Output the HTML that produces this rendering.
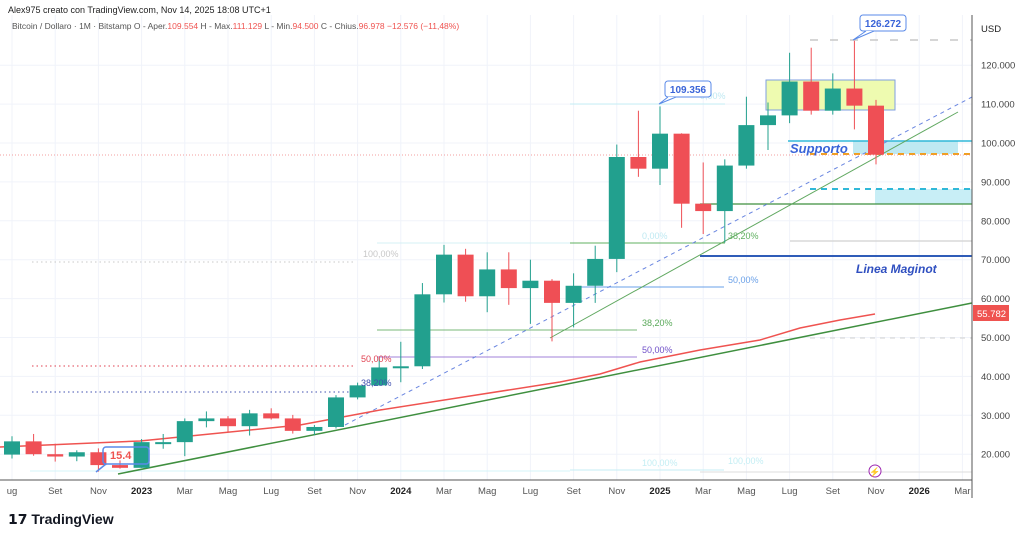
<!DOCTYPE html>
<html><head><meta charset="utf-8"><style>
body{margin:0;background:#fff;width:1024px;height:539px;overflow:hidden;font-family:"Liberation Sans",sans-serif}
svg{position:absolute;left:0;top:0}
text{font-family:"Liberation Sans",sans-serif}
</style></head><body>
<svg id="s" width="1024" height="539" viewBox="0 0 1024 539">
<g id="grid" stroke="#f0f3fa" stroke-width="1"></g>
<!-- rectangles -->
<rect x="766" y="80" width="129" height="30" fill="#eefbb0" stroke="#7f9fe0" stroke-width="1"/>
<rect x="853" y="141" width="105" height="13" fill="#bfe9f2"/>
<rect x="875" y="189" width="97" height="15" fill="#c8eef6"/>
<!-- horizontal lines -->
<line x1="32" y1="262" x2="355" y2="262" stroke="#c8c8c8" stroke-dasharray="1.5,3"/>
<line x1="32" y1="366" x2="355" y2="366" stroke="#e04050" stroke-dasharray="1.5,3"/>
<line x1="32" y1="392" x2="355" y2="392" stroke="#4050b0" stroke-dasharray="1.5,3"/>
<line x1="377" y1="243" x2="615" y2="243" stroke="#d4f0f4"/>
<line x1="377" y1="330" x2="637" y2="330" stroke="#78b878"/>
<line x1="377" y1="357" x2="637" y2="357" stroke="#a080d8"/>
<line x1="570" y1="104" x2="725" y2="104" stroke="#c4eef4"/>
<line x1="570" y1="243" x2="725" y2="243" stroke="#60b060"/>
<line x1="570" y1="287" x2="724" y2="287" stroke="#6aa0e8"/>
<line x1="570" y1="470" x2="724" y2="470" stroke="#c4eef4"/>
<line x1="30" y1="471" x2="570" y2="471" stroke="#d4f4f8"/>
<line x1="700" y1="472" x2="972" y2="472" stroke="#ddd"/>
<line x1="700" y1="204" x2="972" y2="204" stroke="#3f8f3f" stroke-width="1.3"/>
<line x1="790" y1="241" x2="972" y2="241" stroke="#d8d8d8" stroke-width="1.5"/>
<line x1="700" y1="256" x2="972" y2="256" stroke="#2f5cb8" stroke-width="2"/>
<line x1="788" y1="141" x2="972" y2="141" stroke="#30b8d8" stroke-width="1.5"/>
<line x1="810" y1="154" x2="972" y2="154" stroke="#f0a020" stroke-width="2" stroke-dasharray="6,5"/>
<line x1="810" y1="189" x2="972" y2="189" stroke="#30b8d8" stroke-width="2" stroke-dasharray="6,5"/>
<line x1="810" y1="40" x2="972" y2="40" stroke="#c8c8c8" stroke-width="1.5" stroke-dasharray="8,12"/>
<line x1="810" y1="338" x2="972" y2="338" stroke="#d0d0d0" stroke-dasharray="5,5"/>
<line x1="0" y1="155" x2="972" y2="155" stroke="#f08080" stroke-width="0.8" stroke-dasharray="1,2"/>
<!-- trend lines -->
<line x1="345" y1="425" x2="972" y2="97" stroke="#6a86e0" stroke-dasharray="4,4"/>
<line x1="118" y1="474" x2="972" y2="303" stroke="#3f8f3f" stroke-width="1.5"/>
<line x1="550" y1="338" x2="958" y2="112" stroke="#60a860" stroke-width="1"/>
<polyline points="0,447 140,441 300,425 380,410 470,396 560,382 600,374 640,362 700,350 760,340 800,328 840,320 875,314" fill="none" stroke="#ef5350" stroke-width="1.5"/>
<g id="c"></g>
<!-- labels -->
<g font-size="9">
<text x="363" y="257" fill="#c8c8c8">100,00%</text>
<text x="361" y="362" fill="#e04050">50,00%</text>
<text x="361" y="386" fill="#4050b0">38,20%</text>
<text x="642" y="326" fill="#58a858">38,20%</text>
<text x="642" y="353" fill="#7050c8">50,00%</text>
<text x="642" y="239" fill="#bfe9f2">0,00%</text>
<text x="728" y="239" fill="#60b060">38,20%</text>
<text x="728" y="283" fill="#6aa0e8">50,00%</text>
<text x="700" y="99" fill="#bfe9f2">0,00%</text>
<text x="642" y="466" fill="#c4eef4">100,00%</text>
<text x="728" y="464" fill="#c4eef4">100,00%</text>
</g>
<text x="790" y="153" fill="#3a64d8" font-size="13" font-weight="bold" font-style="italic">Supporto</text>
<text x="856" y="273" fill="#2f4fc0" font-size="12" font-weight="bold" font-style="italic">Linea Maginot</text>
<!-- callouts -->
<rect x="665" y="81" width="46" height="16" rx="3" fill="#fff" stroke="#5a8ae8"/>
<path d="M668 97 L659 104 L676 97" fill="#fff" stroke="#5a8ae8"/>
<text x="688" y="93" text-anchor="middle" fill="#3a64d8" font-size="10" font-weight="bold">109.356</text>
<rect x="860" y="15" width="46" height="16" rx="3" fill="#fff" stroke="#5a8ae8"/>
<path d="M866 31 L853 40 L874 31" fill="#fff" stroke="#5a8ae8"/>
<text x="883" y="27" text-anchor="middle" fill="#3a64d8" font-size="10" font-weight="bold">126.272</text>
<rect x="103" y="447" width="46" height="17" rx="3" fill="none" stroke="#5a8ae8" stroke-width="1.5"/>
<path d="M106 464 L96 472" stroke="#5a8ae8" stroke-width="1.5"/>
<text x="110" y="459" fill="#ef5350" font-size="11" font-weight="bold">15.4</text>
<circle cx="875" cy="471" r="6" fill="#fff" stroke="#9c27b0"/>
<text x="875" y="475" text-anchor="middle" fill="#9c27b0" font-size="9">⚡</text>
<!-- axes -->
<line x1="972" y1="15" x2="972" y2="498" stroke="#555"/>
<line x1="0" y1="480" x2="972" y2="480" stroke="#555"/>
<rect x="973" y="305" width="36" height="16" fill="#ef5350"/>
<text x="977" y="317" fill="#fff" font-size="9.5">55.782</text>
<g id="ax" font-size="9.5" fill="#444"></g>
<text x="981" y="32" font-size="9.5" fill="#222">USD</text>
<text x="8" y="13" font-size="9" fill="#222">Alex975 creato con TradingView.com, Nov 14, 2025 18:08 UTC+1</text>
<text x="12" y="29" font-size="8.5" fill="#555">Bitcoin / Dollaro · 1M · Bitstamp  O - Aper.<tspan fill="#ef5350">109.554</tspan>  H - Max.<tspan fill="#ef5350">111.129</tspan>  L - Min.<tspan fill="#ef5350">94.500</tspan>  C - Chius.<tspan fill="#ef5350">96.978</tspan>  <tspan fill="#ef5350">−12.576 (−11,48%)</tspan></text>
<text x="8" y="524" font-size="14" font-weight="bold" fill="#131722">𝟭𝟳 TradingView</text>
</svg>
<script>
var ns="http://www.w3.org/2000/svg";
function el(p,t,a,txt){var e=document.createElementNS(ns,t);for(var k in a)e.setAttribute(k,a[k]);if(txt!=null)e.textContent=txt;p.appendChild(e);return e;}
function Y(v){return 143-(v-100)*3.89;}
function X(m){return 12+m*21.6;}
var g=document.getElementById('grid'),ax=document.getElementById('ax'),c=document.getElementById('c');
var labs=["ug","Set","Nov","2023","Mar","Mag","Lug","Set","Nov","2024","Mar","Mag","Lug","Set","Nov","2025","Mar","Mag","Lug","Set","Nov","2026","Mar"];
for(var i=0;i<labs.length;i++){var x=X(i*2);el(g,'line',{x1:x,y1:15,x2:x,y2:480});
var b=/^20/.test(labs[i]);el(ax,'text',{x:x,y:494,'text-anchor':'middle','font-weight':b?'bold':'normal',fill:b?'#222':'#555'},labs[i]);}
for(var v=20;v<=120;v+=10){var y=Y(v);el(g,'line',{x1:0,y1:y,x2:972,y2:y});el(ax,'text',{x:981,y:y+3.5},v+'.000');}
var d=[[19.9,24.6,18.9,23.3],[23.3,25.2,19.6,20.0],[20.0,22.7,18.1,19.4],[19.4,21.0,18.2,20.5],[20.5,21.5,15.5,17.2],[17.2,18.4,16.3,16.5],[16.5,23.9,16.5,23.1],[23.1,25.2,21.4,23.1],[23.1,29.2,19.5,28.5],[28.5,31.0,26.9,29.2],[29.2,29.8,25.8,27.2],[27.2,31.4,24.8,30.5],[30.5,31.8,28.9,29.2],[29.2,30.1,25.3,26.0],[26.0,27.5,24.9,27.0],[27.0,35.2,26.6,34.6],[34.6,38.4,34.1,37.7],[37.7,44.7,37.6,42.3],[42.3,48.9,38.5,42.6],[42.6,64.0,41.9,61.1],[61.1,73.8,59.0,71.3],[71.3,72.8,59.2,60.6],[60.6,71.9,56.5,67.5],[67.5,71.9,58.4,62.7],[62.7,70.0,53.5,64.6],[64.6,65.0,49.0,58.9],[58.9,66.5,52.6,63.3],[63.3,73.6,58.9,70.2],[70.2,99.6,66.8,96.4],[96.4,108.3,91.3,93.4],[93.4,109.4,89.2,102.4],[102.4,102.5,78.2,84.4],[84.4,95.0,76.6,82.5],[82.5,95.8,74.4,94.2],[94.2,111.9,93.4,104.6],[104.6,110.4,98.2,107.1],[107.1,123.2,105.1,115.8],[115.8,124.5,107.3,108.3],[108.3,117.9,107.3,114.0],[114.0,126.3,103.5,109.6],[109.6,111.1,94.5,97.0]];
for(var i=0;i<d.length;i++){var o=d[i][0],h=d[i][1],l=d[i][2],cl=d[i][3],x=X(i),up=cl>=o,col=up?'#22a08e':'#ef4f55';
el(c,'line',{x1:x,y1:Y(h),x2:x,y2:Y(l),stroke:col,'stroke-width':1});
var t=Y(Math.max(o,cl)),bt=Y(Math.min(o,cl));el(c,'rect',{x:x-8,y:t,width:16,height:Math.max(2,bt-t),fill:col});}
</script>
</body></html>
